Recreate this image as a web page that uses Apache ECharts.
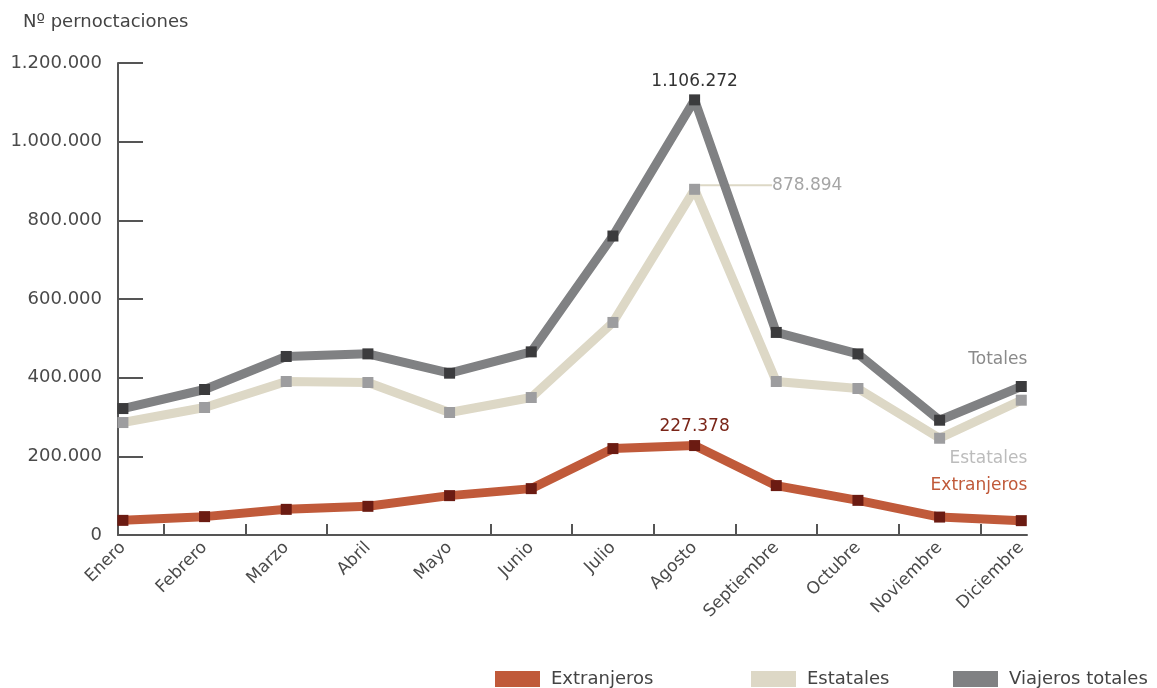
<!DOCTYPE html>
<html>
<head>
<meta charset="utf-8">
<script src="https://cdn.jsdelivr.net/npm/echarts@6/dist/echarts.min.js"></script>
<style>
html,body{margin:0;padding:0;background:#fff;}
#main{width:1157px;height:688px;}
</style>
</head>
<body>
<div id="main"></div>
<script>
const months = ['Enero','Febrero','Marzo','Abril','Mayo','Junio','Julio','Agosto','Septiembre','Octubre','Noviembre','Diciembre'];
const extranjeros = [37200, 46700, 65200, 72900, 100100, 117900, 219700, 227378, 125600, 88100, 45600, 36500];
const estatales = [285900, 324100, 390300, 387700, 311400, 349500, 540400, 878894, 390300, 372500, 246000, 342700];
const totales = [321500, 369900, 453900, 460500, 411400, 465600, 760100, 1106272, 515000, 460500, 291800, 377500];
const yTickValues = [0, 200000, 400000, 600000, 800000, 1000000, 1200000];
const xTickBoundaries = [0.5, 1.5, 2.5, 4.5, 5.5, 6.5, 7.5, 8.5, 9.5, 10.5];
const seriesNames = ['Extranjeros', 'Estatales', 'Viajeros totales'];
const endLabels = ['Extranjeros', 'Estatales', 'Totales'];

const FONT = 'DejaVu Sans';
function fmt(v) {
  return String(Math.round(v)).replace(/\B(?=(\d{3})+(?!\d))/g, '.');
}
function build(values, peakLabel, endLabel) {
  return values.map(function (v, i) {
    const item = { value: [i, v] };
    if (i === 7 && peakLabel) item.label = peakLabel;
    if (i === 11 && endLabel) item.label = endLabel;
    return item;
  });
}
function legendFor(idx, left, color) {
  return {
    left: left, top: 670, padding: 0, itemWidth: 45, itemHeight: 16, itemGap: 0, selectedMode: false,
    textStyle: { fontFamily: FONT, fontSize: 18, color: '#444', padding: [0, 0, 0, 6] },
    data: [{ name: seriesNames[idx], icon: 'rect', itemStyle: { color: color } }]
  };
}

const chart = echarts.init(document.getElementById('main'), null, { renderer: 'canvas' });
const option = {
  animation: false,
  title: {
    text: 'Nº pernoctaciones', left: 18, top: 8,
    textStyle: { fontFamily: FONT, fontSize: 18, fontWeight: 'normal', color: '#444' }
  },
  grid: { left: 118, right: 130, top: 63, bottom: 153, containLabel: false },
  legend: [
    legendFor(0, 495, '#c05a3a'),
    legendFor(1, 751, '#ddd8c6'),
    legendFor(2, 953, '#808183')
  ],
  xAxis: {
    type: 'value', min: -0.06, max: 11.07,
    axisLine: { show: true, onZero: false, lineStyle: { color: '#555', width: 2 } },
    axisTick: { show: true, inside: true, length: 11, customValues: xTickBoundaries,
      lineStyle: { color: '#555', width: 2 } },
    axisLabel: { show: true, customValues: months.map(function (m, i) { return i; }),
      formatter: function (v) { return months[Math.round(v)]; },
      rotate: 45, margin: 10, fontFamily: FONT, fontSize: 17, color: '#4a4a4a' },
    splitLine: { show: false }
  },
  yAxis: {
    type: 'value', min: 0, max: 1200000, interval: 200000,
    axisLine: { show: true, onZero: false, lineStyle: { color: '#555', width: 2 } },
    axisTick: { show: true, inside: true, length: 25, lineStyle: { color: '#555', width: 2 } },
    axisLabel: { margin: 16, fontFamily: FONT, fontSize: 18, color: '#4a4a4a',
      formatter: function (v) { return fmt(v); } },
    splitLine: { show: false }
  },
  series: [
    {
      name: seriesNames[0], type: 'line', z: 3,
      symbol: 'rect', symbolSize: 11,
      lineStyle: { color: '#c05a3a', width: 9 },
      itemStyle: { color: '#6b1b12' },
      data: build(extranjeros,
        { show: true, position: 'top', distance: 5, formatter: function (p) { return fmt(p.value[1]); },
          fontFamily: FONT, fontSize: 17, color: '#7a2518' },
        { show: true, position: 'top', distance: 0, align: 'right', offset: [6, -21],
          formatter: endLabels[0], fontFamily: FONT, fontSize: 17, color: '#c05a3a' })
    },
    {
      name: seriesNames[1], type: 'line', z: 2,
      symbol: 'rect', symbolSize: 11,
      lineStyle: { color: '#ddd8c6', width: 9 },
      itemStyle: { color: '#9d9d9f' },
      labelLayout: function (p) {
        if (p.dataIndex === 7) return { dx: 64, dy: -4 };
        if (p.dataIndex === 11) return { dx: 6, dy: 44 };
        return {};
      },
      data: build(estatales,
        { show: true, position: 'right', distance: 8, formatter: function (p) { return fmt(p.value[1]); },
          fontFamily: FONT, fontSize: 17, color: '#a5a5a5' },
        { show: true, position: 'bottom', distance: 0, align: 'right',
          formatter: endLabels[1], fontFamily: FONT, fontSize: 17, color: '#bcbcbc' }).map(function (d, i) {
            if (i === 7) d.labelLine = { show: true, lineStyle: { color: '#ddd8c6', width: 2 } };
            return d;
          })
    },
    {
      name: seriesNames[2], type: 'line', z: 4,
      symbol: 'rect', symbolSize: 11,
      lineStyle: { color: '#808183', width: 9 },
      itemStyle: { color: '#3b3b3d' },
      data: build(totales,
        { show: true, position: 'top', distance: 4, formatter: function (p) { return fmt(p.value[1]); },
          fontFamily: FONT, fontSize: 17, color: '#333' },
        { show: true, position: 'top', distance: 0, align: 'right', offset: [6, -13],
          formatter: endLabels[2], fontFamily: FONT, fontSize: 17, color: '#8a8a8a' })
    }
  ]
};
chart.setOption(option);
</script>
</body>
</html>
